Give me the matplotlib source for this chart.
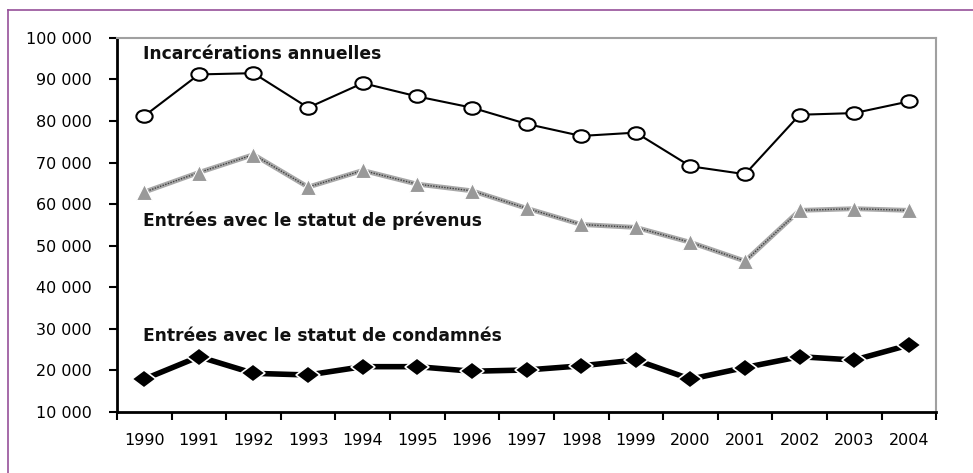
import numpy as np
import matplotlib.pyplot as plt
from matplotlib.lines import Line2D
from matplotlib.markers import MarkerStyle
from matplotlib.transforms import Affine2D

years = ['1990', '1991', '1992', '1993', '1994', '1995', '1996', '1997',
         '1998', '1999', '2000', '2001', '2002', '2003', '2004']
incarcerations = [81200, 91200, 91500, 83200, 89100, 85900, 83200, 79300,
                  76400, 77200, 69100, 67200, 81500, 81900, 84700]
prevenus = [62900, 67600, 71900, 64100, 68100, 64800, 63200, 59000,
            55100, 54400, 50800, 46300, 58500, 58900, 58500]
condamnes = [17900, 23300, 19300, 18900, 20900, 20900, 19800, 20100,
             21100, 22500, 17900, 20700, 23300, 22500, 26100]
yticks = [10000, 20000, 30000, 40000, 50000, 60000, 70000, 80000, 90000, 100000]

plt.rcParams['font.family'] = ['DejaVu Sans']

fig = plt.figure(figsize=(9.73, 4.73), dpi=100)
ax = fig.add_axes([0.1202, 0.129, 0.842, 0.791])

x = np.arange(len(years))

# Incarcérations annuelles: thin black line, white ellipses
ell = MarkerStyle('o', transform=Affine2D().scale(1.3, 1.0))
ax.plot(x, incarcerations, color='black', lw=1.5, marker=ell, markersize=9,
        markerfacecolor='white', markeredgecolor='black', markeredgewidth=1.5, zorder=4)

# prévenus: grey hatched line with grey triangles
ax.plot(x, prevenus, color='#a8a8a8', lw=3.5, solid_capstyle='butt', zorder=2)
ax.plot(x, prevenus, color='#404040', lw=1.0, dashes=(1, 1), zorder=3)
ax.plot(x, prevenus, ls='none', marker='^', markersize=11, color='#999999',
        markeredgecolor='white', markeredgewidth=0.8, zorder=5)

# condamnés: thick black line, black diamonds
dia = MarkerStyle('D', transform=Affine2D().scale(1.25, 0.9))
ax.plot(x, condamnes, color='black', lw=4, marker=dia, markersize=10,
        markerfacecolor='black', markeredgecolor='white', markeredgewidth=1.2, zorder=4)

lab = dict(fontsize=12.3, fontweight='bold', ha='left', va='center', color='#111111')
ax.text(-0.03, 96100, 'Incarcérations annuelles', **lab)
ax.text(-0.03, 56000, 'Entrées avec le statut de prévenus', **lab)
ax.text(-0.03, 28300, 'Entrées avec le statut de condamnés', **lab)

ax.set_xlim(-0.5, len(years) - 0.5)
ax.set_ylim(10000, 100000)
ax.set_yticks(yticks)
ax.set_yticklabels([f'{v:,}'.replace(',', ' ') for v in yticks])
ax.set_xticks(x)
ax.set_xticklabels(years)
ax.set_xticks(np.arange(-0.5, len(years)), minor=True)
ax.tick_params(axis='x', which='major', length=0, pad=15, labelsize=11.5)
ax.tick_params(axis='x', which='minor', length=6, width=1.5, direction='out')
ax.tick_params(axis='y', length=6, width=1.5, direction='out', pad=12, labelsize=11.5)

for s in ['left', 'bottom']:
    ax.spines[s].set_color('black')
    ax.spines[s].set_linewidth(2)
for s in ['top', 'right']:
    ax.spines[s].set_color('#a0a0a0')
    ax.spines[s].set_linewidth(1.5)

# purple frame (top and left visible)
W, H = 973, 473
fig.add_artist(Line2D([8 / W, 1], [1 - 10 / H, 1 - 10 / H], transform=fig.transFigure,
                      color='#96509a', lw=1.2))
fig.add_artist(Line2D([8 / W, 8 / W], [0, 1 - 10 / H], transform=fig.transFigure,
                      color='#96509a', lw=1.2))

fig.savefig('out.png', dpi=100)
